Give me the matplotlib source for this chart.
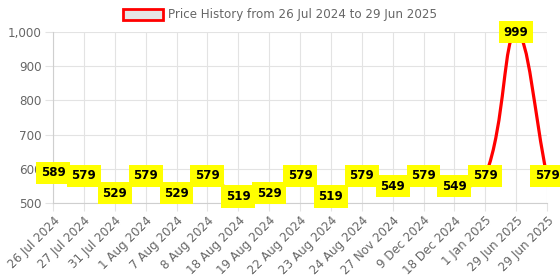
import numpy as np
import matplotlib
matplotlib.use("Agg")
import matplotlib.pyplot as plt
from matplotlib.path import Path
from matplotlib.patches import PathPatch, Patch
from matplotlib.ticker import FuncFormatter

dates = ['26 Jul 2024', '27 Jul 2024', '31 Jul 2024', '1 Aug 2024', '7 Aug 2024',
         '8 Aug 2024', '18 Aug 2024', '19 Aug 2024', '22 Aug 2024', '23 Aug 2024',
         '24 Aug 2024', '27 Nov 2024', '9 Dec 2024', '18 Dec 2024', '1 Jan 2025',
         '29 Jun 2025', '29 Jun 2025']
prices = [589, 579, 529, 579, 529, 579, 519, 529, 579, 519, 579, 549, 579, 549, 579, 999, 579]
title = 'Price History from 26 Jul 2024 to 29 Jun 2025'

GRID = '#e3e3e3'
TXT = '#666666'
FS = 8.6

fig = plt.figure(figsize=(5.6, 2.8), dpi=100)
ax = fig.add_axes([53 / 560, 1 - 203 / 280, 494 / 560, 171 / 280])
x = np.arange(len(prices))
ax.set_xlim(0, len(prices) - 1)
ax.set_ylim(500, 1000)
ax.set_yticks(np.arange(500, 1001, 100))
ax.yaxis.set_major_formatter(FuncFormatter(lambda v, p: f'{v:,.0f}'))
ax.set_xticks(x)
ax.set_xticklabels(dates, rotation=45, ha='right', rotation_mode='anchor')
ax.grid(True, color=GRID, lw=0.8)
ax.set_axisbelow(True)
ax.tick_params(colors=GRID, labelcolor=TXT, labelsize=FS, length=6, width=0.8, pad=2)
for s in ['top', 'right']:
    ax.spines[s].set_visible(False)
for s in ['left', 'bottom']:
    ax.spines[s].set_color('#cfcfcf')
    ax.spines[s].set_linewidth(0.8)

# smooth line (bezier with tension like chart.js)
t = 0.4
pts = ax.transData.transform(np.column_stack([x, prices]))
n = len(pts)
cp_in, cp_out = [], []
for i in range(n):
    prev = pts[i - 1] if i > 0 else pts[i]
    nxt = pts[i + 1] if i < n - 1 else pts[i]
    d01 = np.hypot(*(pts[i] - prev))
    d12 = np.hypot(*(nxt - pts[i]))
    tot = d01 + d12
    s01 = d01 / tot if tot else 0
    s12 = d12 / tot if tot else 0
    cp_in.append(pts[i] - t * s01 * (nxt - prev))
    cp_out.append(pts[i] + t * s12 * (nxt - prev))
verts = [pts[0]]
codes = [Path.MOVETO]
for i in range(n - 1):
    verts += [cp_out[i], cp_in[i + 1], pts[i + 1]]
    codes += [Path.CURVE4] * 3
inv = ax.transData.inverted()
verts = inv.transform(np.array(verts))
ax.add_patch(PathPatch(Path(verts, codes), fill=False, edgecolor='red', lw=2.3,
                       transform=ax.transData, zorder=3, clip_on=False))

for xi, p in zip(x, prices):
    ax.text(xi, p, str(p), ha='center', va='center', fontsize=FS, fontweight='bold',
            color='black', zorder=5, clip_on=False,
            bbox=dict(boxstyle='square,pad=0.38', fc='#ffff00', ec='none'))

fig.legend(handles=[Patch(facecolor='#e6e6e6', edgecolor='red', lw=2)], labels=[title],
           loc='upper center', bbox_to_anchor=(0.5, 1.0), frameon=False, fontsize=FS,
           labelcolor=TXT, handlelength=3.3, handleheight=1.0, handletextpad=0.4,
           borderaxespad=0.3)

fig.savefig('out.png', dpi=100)
